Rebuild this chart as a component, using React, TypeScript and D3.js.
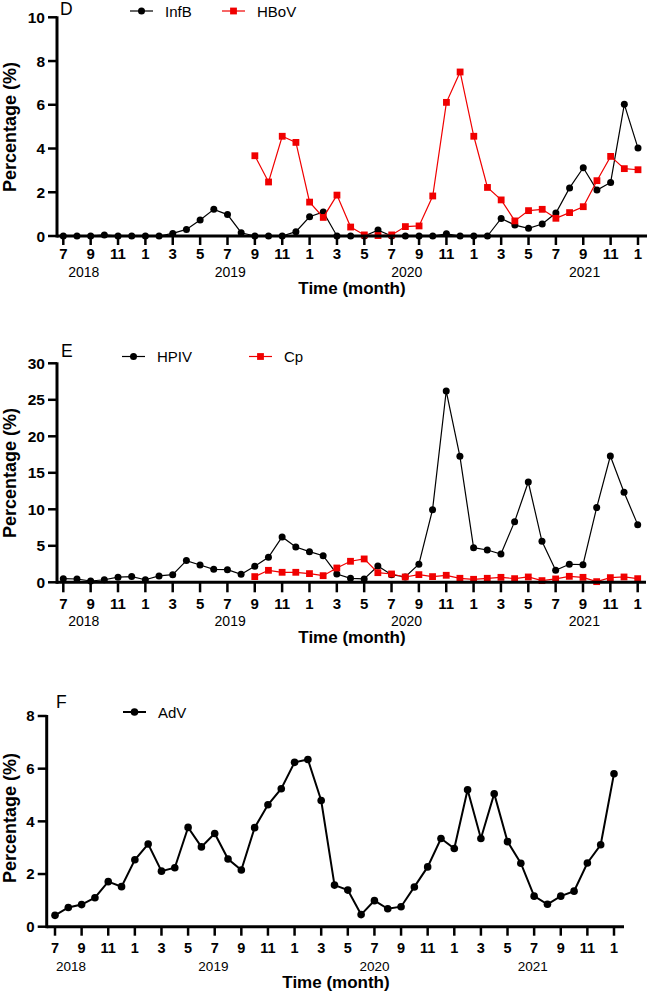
import React from "react";
import * as d3 from "d3";

// ---- data (monthly, 7/2018 .. 1/2022, 43 points) ----
const tickLabels = ["7", "9", "11", "1", "3", "5", "7", "9", "11", "1", "3", "5", "7", "9", "11", "1", "3", "5", "7", "9", "11", "1"];
const years = ["2018", "2019", "2020", "2021"];

const infB: (number | null)[] = [0, 0, 0, 0.05, 0, 0, 0, 0, 0.12, 0.3, 0.73, 1.22, 0.98, 0.15, 0, 0, 0, 0.2, 0.88, 1.1, 0, 0, 0, 0.27, 0, 0, 0, 0, 0.1, 0, 0, 0, 0.8, 0.5, 0.35, 0.55, 1.05, 2.2, 3.12, 2.1, 2.45, 6.02, 4.02];
const hBoV: (number | null)[] = [null, null, null, null, null, null, null, null, null, null, null, null, null, null, 3.67, 2.47, 4.56, 4.28, 1.55, 0.85, 1.87, 0.41, 0.05, 0.02, 0.05, 0.43, 0.46, 1.83, 6.11, 7.5, 4.56, 2.22, 1.65, 0.69, 1.16, 1.22, 0.81, 1.07, 1.34, 2.53, 3.64, 3.08, 3.03];
const hPIV: (number | null)[] = [0.5, 0.45, 0.18, 0.35, 0.7, 0.78, 0.35, 0.87, 1.05, 2.97, 2.37, 1.78, 1.73, 1.1, 2.19, 3.42, 6.21, 4.84, 4.2, 3.65, 1.14, 0.55, 0.46, 2.24, 1.05, 0.73, 2.47, 9.95, 26.2, 17.26, 4.75, 4.43, 3.88, 8.31, 13.74, 5.62, 1.64, 2.47, 2.42, 10.23, 17.3, 12.33, 7.9];
const cp: (number | null)[] = [null, null, null, null, null, null, null, null, null, null, null, null, null, null, 0.78, 1.64, 1.37, 1.37, 1.19, 0.91, 1.96, 2.88, 3.2, 1.32, 1.14, 0.73, 1.05, 0.78, 0.96, 0.55, 0.41, 0.55, 0.68, 0.5, 0.73, 0.23, 0.46, 0.82, 0.68, 0.09, 0.64, 0.73, 0.5];
const adV: (number | null)[] = [0.43, 0.73, 0.84, 1.1, 1.71, 1.52, 2.54, 3.14, 2.11, 2.24, 3.77, 3.03, 3.54, 2.57, 2.15, 3.76, 4.63, 5.24, 6.24, 6.35, 4.79, 1.58, 1.39, 0.46, 0.99, 0.68, 0.76, 1.51, 2.27, 3.35, 2.97, 5.2, 3.35, 5.05, 3.23, 2.41, 1.16, 0.85, 1.16, 1.35, 2.42, 3.11, 5.81];

const yTicksD = [0, 2, 4, 6, 8, 10];
const yTicksE = [0, 5, 10, 15, 20, 25, 30];
const yTicksF = [0, 2, 4, 6, 8];

const FONT = "'Liberation Sans', Arial, Helvetica, sans-serif";
const RED = "#f00000";

type Series = { name: string; values: (number | null)[]; color: string; shape: "circle" | "square" };

type PanelCfg = {
  title: string;
  series: Series[];
  yTicks: number[];
  axisX: number;
  xFirst: number;
  xLast: number;
  axisEnd: number;
  yTop: number;
  yBottom: number;
  tickLen: number;
  tickLabelY: number;
  yearY: number;
  yearFont: number;
  yearPos: number[];
  timeX: number;
  timeY: number;
  yLabelCy: number;
  titleX: number;
  titleY: number;
  legendX: number[];
  legendY: number;
  lineW: number;
  r: number;
  sq: number;
  tickFont: number;
};

function Panel({ c }: { c: PanelCfg }) {
  const n = 43;
  const x = d3.scaleLinear().domain([0, n - 1]).range([c.xFirst, c.xLast]);
  const y = d3.scaleLinear().domain([0, c.yTicks[c.yTicks.length - 1]]).range([c.yBottom, c.yTop]);
  const line = d3
    .line<number | null>()
    .defined((d) => d != null)
    .x((_, i) => x(i))
    .y((d) => y(d as number));

  const marker = (s: Series, cx: number, cy: number, key: string | number) =>
    s.shape === "circle" ? (
      <circle key={key} cx={cx} cy={cy} r={c.r} fill={s.color} />
    ) : (
      <rect key={key} x={cx - c.sq / 2} y={cy - c.sq / 2} width={c.sq} height={c.sq} fill={s.color} />
    );

  return (
    <g fontFamily={FONT}>
      {c.series.map((s) => (
        <g key={s.name}>
          <path d={line(s.values) || ""} fill="none" stroke={s.color} strokeWidth={c.lineW} />
          {s.values.map((v, i) => (v == null ? null : marker(s, x(i), y(v), i)))}
        </g>
      ))}
      <line x1={c.axisX} x2={c.axisEnd} y1={c.yBottom} y2={c.yBottom} stroke="#000" strokeWidth={3} />
      <line x1={c.axisX} x2={c.axisX} y1={c.yTop - 1} y2={c.yBottom + 1.5} stroke="#000" strokeWidth={3} />
      {c.yTicks.map((t) => (
        <g key={"y" + t}>
          <line x1={c.axisX - 9} x2={c.axisX} y1={y(t)} y2={y(t)} stroke="#000" strokeWidth={2.5} />
          <text x={c.axisX - 12} y={y(t)} dy="0.36em" textAnchor="end" fontWeight="bold" fontSize={c.tickFont + 0.5}>
            {t}
          </text>
        </g>
      ))}
      {tickLabels.map((t, k) => (
        <g key={"x" + k}>
          <line x1={x(k * 2)} x2={x(k * 2)} y1={c.yBottom} y2={c.yBottom + c.tickLen} stroke="#000" strokeWidth={2.5} />
          <text x={x(k * 2)} y={c.tickLabelY} textAnchor="middle" fontWeight="bold" fontSize={c.tickFont}>
            {t}
          </text>
        </g>
      ))}
      {years.map((yr, k) => (
        <text key={yr} x={x(c.yearPos[k])} y={c.yearY} textAnchor="middle" fontSize={c.yearFont}>
          {yr}
        </text>
      ))}
      <text x={c.timeX} y={c.timeY} textAnchor="middle" fontWeight="bold" fontSize={17}>
        Time (month)
      </text>
      <text
        transform={`translate(16,${c.yLabelCy}) rotate(-90)`}
        textAnchor="middle"
        fontWeight="bold"
        fontSize={18}
      >
        Percentage (%)
      </text>
      <text x={c.titleX} y={c.titleY} fontSize={17.5}>
        {c.title}
      </text>
      {c.series.map((s, k) => (
        <g key={"lg" + s.name}>
          <line x1={c.legendX[k]} x2={c.legendX[k] + 23} y1={c.legendY} y2={c.legendY} stroke={s.color} strokeWidth={c.lineW} />
          {marker(s, c.legendX[k] + 11.5, c.legendY, "m")}
          <text x={c.legendX[k] + 35} y={c.legendY + 5.5} fontSize={15}>
            {s.name}
          </text>
        </g>
      ))}
    </g>
  );
}

const panels: PanelCfg[] = [
  {
    title: "D",
    series: [
      { name: "InfB", values: infB, color: "#000", shape: "circle" },
      { name: "HBoV", values: hBoV, color: RED, shape: "square" },
    ],
    yTicks: yTicksD,
    axisX: 57,
    xFirst: 63.3,
    xLast: 638,
    axisEnd: 647,
    yTop: 17.3,
    yBottom: 236,
    tickLen: 9,
    tickLabelY: 258.5,
    yearY: 277,
    yearFont: 14,
    yearPos: [1.5, 12.2, 25.1, 38.1],
    timeX: 352,
    timeY: 294,
    yLabelCy: 127,
    titleX: 60,
    titleY: 15,
    legendX: [130, 222],
    legendY: 11,
    lineW: 1.2,
    r: 3.5,
    sq: 6.8,
    tickFont: 15,
  },
  {
    title: "E",
    series: [
      { name: "HPIV", values: hPIV, color: "#000", shape: "circle" },
      { name: "Cp", values: cp, color: RED, shape: "square" },
    ],
    yTicks: yTicksE,
    axisX: 57,
    xFirst: 63.3,
    xLast: 637.7,
    axisEnd: 646,
    yTop: 363.3,
    yBottom: 582.3,
    tickLen: 10,
    tickLabelY: 608.5,
    yearY: 626,
    yearFont: 14,
    yearPos: [1.5, 12.2, 25.1, 38.1],
    timeX: 352,
    timeY: 643,
    yLabelCy: 473,
    titleX: 61,
    titleY: 357,
    legendX: [122, 249],
    legendY: 356.5,
    lineW: 1.2,
    r: 3.5,
    sq: 6.8,
    tickFont: 15,
  },
  {
    title: "F",
    series: [{ name: "AdV", values: adV, color: "#000", shape: "circle" }],
    yTicks: yTicksF,
    axisX: 46.7,
    xFirst: 55,
    xLast: 614,
    axisEnd: 624,
    yTop: 716,
    yBottom: 926.7,
    tickLen: 9,
    tickLabelY: 953,
    yearY: 971,
    yearFont: 13.5,
    yearPos: [1.2, 11.9, 24.0, 35.9],
    timeX: 336,
    timeY: 988,
    yLabelCy: 818,
    titleX: 56,
    titleY: 708,
    legendX: [123, 0],
    legendY: 712,
    lineW: 2,
    r: 3.8,
    sq: 7,
    tickFont: 14.5,
  },
];

export default function App() {
  return (
    <svg
      width={649}
      height={992}
      viewBox="0 0 649 992"
      style={{ position: "absolute", left: 0, top: 0, background: "#fff" }}
    >
      <rect x={0} y={0} width={649} height={992} fill="#fff" />
      {panels.map((p) => (
        <Panel key={p.title} c={p} />
      ))}
    </svg>
  );
}
